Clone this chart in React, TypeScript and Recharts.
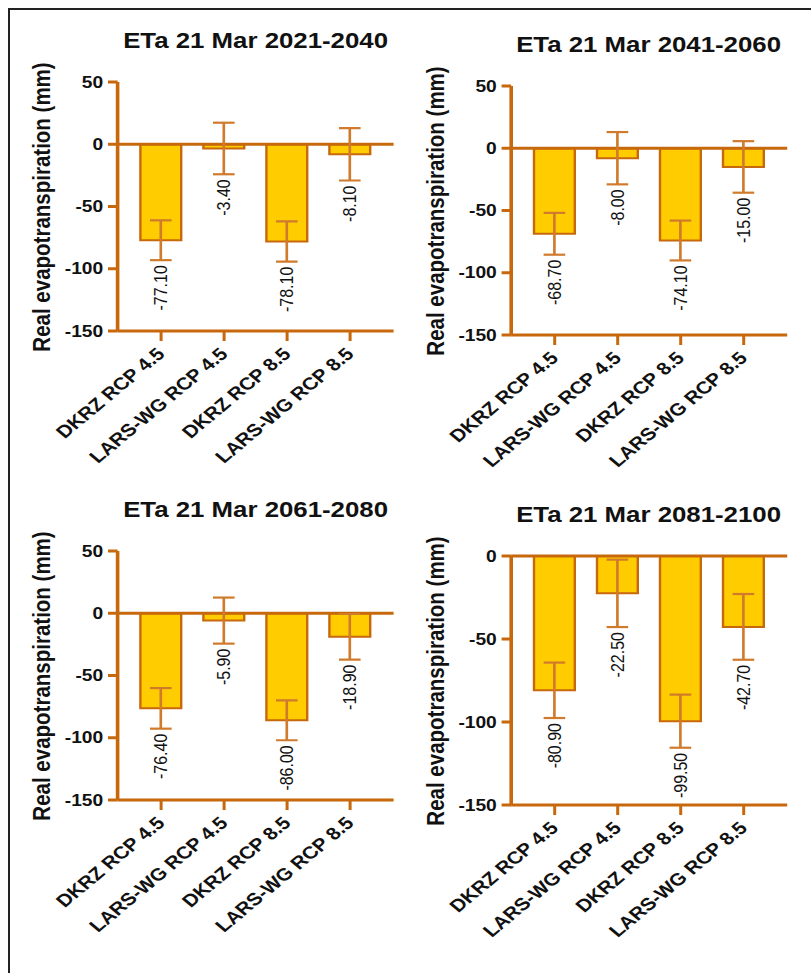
import { Bar, BarChart, ErrorBar, LabelList, ReferenceLine, XAxis, YAxis } from 'recharts';

// scenario categories shared by every panel
const CATEGORIES = ['DKRZ RCP 4.5', 'LARS-WG RCP 4.5', 'DKRZ RCP 8.5', 'LARS-WG RCP 8.5'];

// mean change of real evapotranspiration (mm) and its error, per period
const ETA_2021_2040 = [-77.1, -3.4, -78.1, -8.1];
const ERR_2021_2040 = [16.0, 20.7, 16.2, 21.0];

const ETA_2041_2060 = [-68.7, -8.0, -74.1, -15.0];
const ERR_2041_2060 = [16.8, 21.0, 16.0, 20.7];

const ETA_2061_2080 = [-76.4, -5.9, -86.0, -18.9];
const ERR_2061_2080 = [16.3, 18.5, 16.0, 18.3];

const ETA_2081_2100 = [-80.9, -22.5, -99.5, -42.7];
const ERR_2081_2100 = [16.7, 20.3, 16.0, 19.8];

const TICKS_WITH_POSITIVE = [50, 0, -50, -100, -150];
const TICKS_NEGATIVE = [0, -50, -100, -150];

const AXIS = '#C8680C';
const ERR_COLOR = '#D07A2C';
const FILL = '#FFCC00';
const FONT = '"Liberation Sans", Arial, Helvetica, sans-serif';

// the whole figure is drawn slightly widened, like the published graphic
const STRETCH = 1.2;

const CHART_W = 338;
const CHART_H = 495;
const PLOT_LEFT = 98;
const PLOT_W = 230;
const PLOT_TOP = 82;
const PLOT_H = 249;

function CategoryTick(props: any) {
  const { x, y, payload } = props;
  const tx = x + 4;
  const ty = y + 12;
  return (
    <text
      x={tx}
      y={ty}
      transform={`rotate(-45 ${tx} ${ty})`}
      textAnchor="end"
      fontSize={17.5}
      fontWeight="bold"
      fontFamily={FONT}
      fill="#111"
    >
      {payload.value}
    </text>
  );
}

// value label sits just under the lower end of the error bar
const valueLabel = (errors: number[]) => (props: any) => {
  const vb = props.viewBox ?? props;
  const { x, y, width, height } = vb;
  const value = Number(props.value);
  const index = props.index;
  if (!value || index == null) return null;
  const ppu = Math.abs(height / value);
  const bottom = Math.max(y, y + height);
  const ly = bottom + errors[index] * ppu + 5;
  const lx = x + width / 2;
  return (
    <text
      x={lx}
      y={ly}
      transform={`rotate(-90 ${lx} ${ly})`}
      textAnchor="end"
      dominantBaseline="central"
      fontSize={16}
      fontFamily={FONT}
      fill="#111"
    >
      {value.toFixed(2)}
    </text>
  );
};

interface PanelProps {
  title: string;
  values: number[];
  errors: number[];
  ticks: number[];
  left: number;
  top: number;
}

function EtaPanel({ title, values, errors, ticks, left, top }: PanelProps) {
  const data = CATEGORIES.map((name, i) => ({ name, eta: values[i], err: errors[i] }));
  const domain = [ticks[ticks.length - 1], ticks[0]];
  return (
    <div style={{ position: 'absolute', left, top, width: CHART_W, height: CHART_H }}>
      <div
        style={{
          position: 'absolute',
          left: PLOT_LEFT,
          top: 29,
          width: PLOT_W,
          textAlign: 'center',
          fontFamily: FONT,
          fontWeight: 'bold',
          fontSize: 21.5,
          lineHeight: '24px',
          color: '#111',
          whiteSpace: 'nowrap',
        }}
      >
        {title}
      </div>
      <div
        style={{
          position: 'absolute',
          left: 35,
          top: PLOT_TOP + PLOT_H / 2,
          transform: 'translate(-50%, -50%) rotate(-90deg)',
          fontFamily: FONT,
          fontWeight: 'bold',
          fontSize: 20.5,
          lineHeight: '24px',
          color: '#111',
          whiteSpace: 'nowrap',
        }}
      >
        Real evapotranspiration (mm)
      </div>
      <BarChart
        width={CHART_W}
        height={CHART_H}
        data={data}
        margin={{ top: PLOT_TOP, right: CHART_W - PLOT_LEFT - PLOT_W, bottom: 0, left: 0 }}
        barSize={34}
        style={{ position: 'absolute', left: 0, top: 0 }}
      >
        <XAxis
          dataKey="name"
          height={CHART_H - PLOT_TOP - PLOT_H}
          interval={0}
          padding={{ left: 10, right: 10 }}
          axisLine={{ stroke: AXIS, strokeWidth: 3 }}
          tickLine={{ stroke: AXIS, strokeWidth: 2.5 }}
          tickSize={10}
          tick={<CategoryTick />}
        />
        <YAxis
          type="number"
          domain={domain}
          ticks={ticks}
          interval={0}
          width={PLOT_LEFT}
          axisLine={{ stroke: AXIS, strokeWidth: 3 }}
          tickLine={{ stroke: AXIS, strokeWidth: 3 }}
          tickSize={8}
          tickMargin={4}
          tick={{ fill: '#111', fontSize: 16, fontWeight: 'bold', fontFamily: FONT }}
        />
        <ReferenceLine y={0} stroke={AXIS} strokeWidth={3} />
        <Bar dataKey="eta" fill={FILL} stroke={AXIS} strokeWidth={2} isAnimationActive={false}>
          <ErrorBar dataKey="err" direction="y" width={9} stroke={ERR_COLOR} strokeWidth={2.2} isAnimationActive={false} />
          <LabelList dataKey="eta" content={valueLabel(errors)} />
        </Bar>
      </BarChart>
    </div>
  );
}

export default function App() {
  return (
    <div style={{ position: 'absolute', left: 0, top: 0, width: 811, height: 973, overflow: 'hidden', background: '#fff' }}>
      <div
        style={{
          position: 'absolute',
          left: 8,
          top: 8,
          width: 803,
          height: 965,
          borderLeft: '2px solid #222',
          borderTop: '2px solid #222',
          boxSizing: 'border-box',
        }}
      />
      <div
        style={{
          position: 'absolute',
          left: 0,
          top: 0,
          width: 811 / STRETCH,
          height: 973,
          transform: `scaleX(${STRETCH})`,
          transformOrigin: '0 0',
        }}
      >
        <EtaPanel title="ETa 21 Mar 2021-2040" values={ETA_2021_2040} errors={ERR_2021_2040} ticks={TICKS_WITH_POSITIVE} left={0} top={0} />
        <EtaPanel title="ETa 21 Mar 2041-2060" values={ETA_2041_2060} errors={ERR_2041_2060} ticks={TICKS_WITH_POSITIVE} left={327.5} top={4} />
        <EtaPanel title="ETa 21 Mar 2061-2080" values={ETA_2061_2080} errors={ERR_2061_2080} ticks={TICKS_WITH_POSITIVE} left={0} top={469} />
        <EtaPanel title="ETa 21 Mar 2081-2100" values={ETA_2081_2100} errors={ERR_2081_2100} ticks={TICKS_NEGATIVE} left={327.5} top={474} />
      </div>
    </div>
  );
}
